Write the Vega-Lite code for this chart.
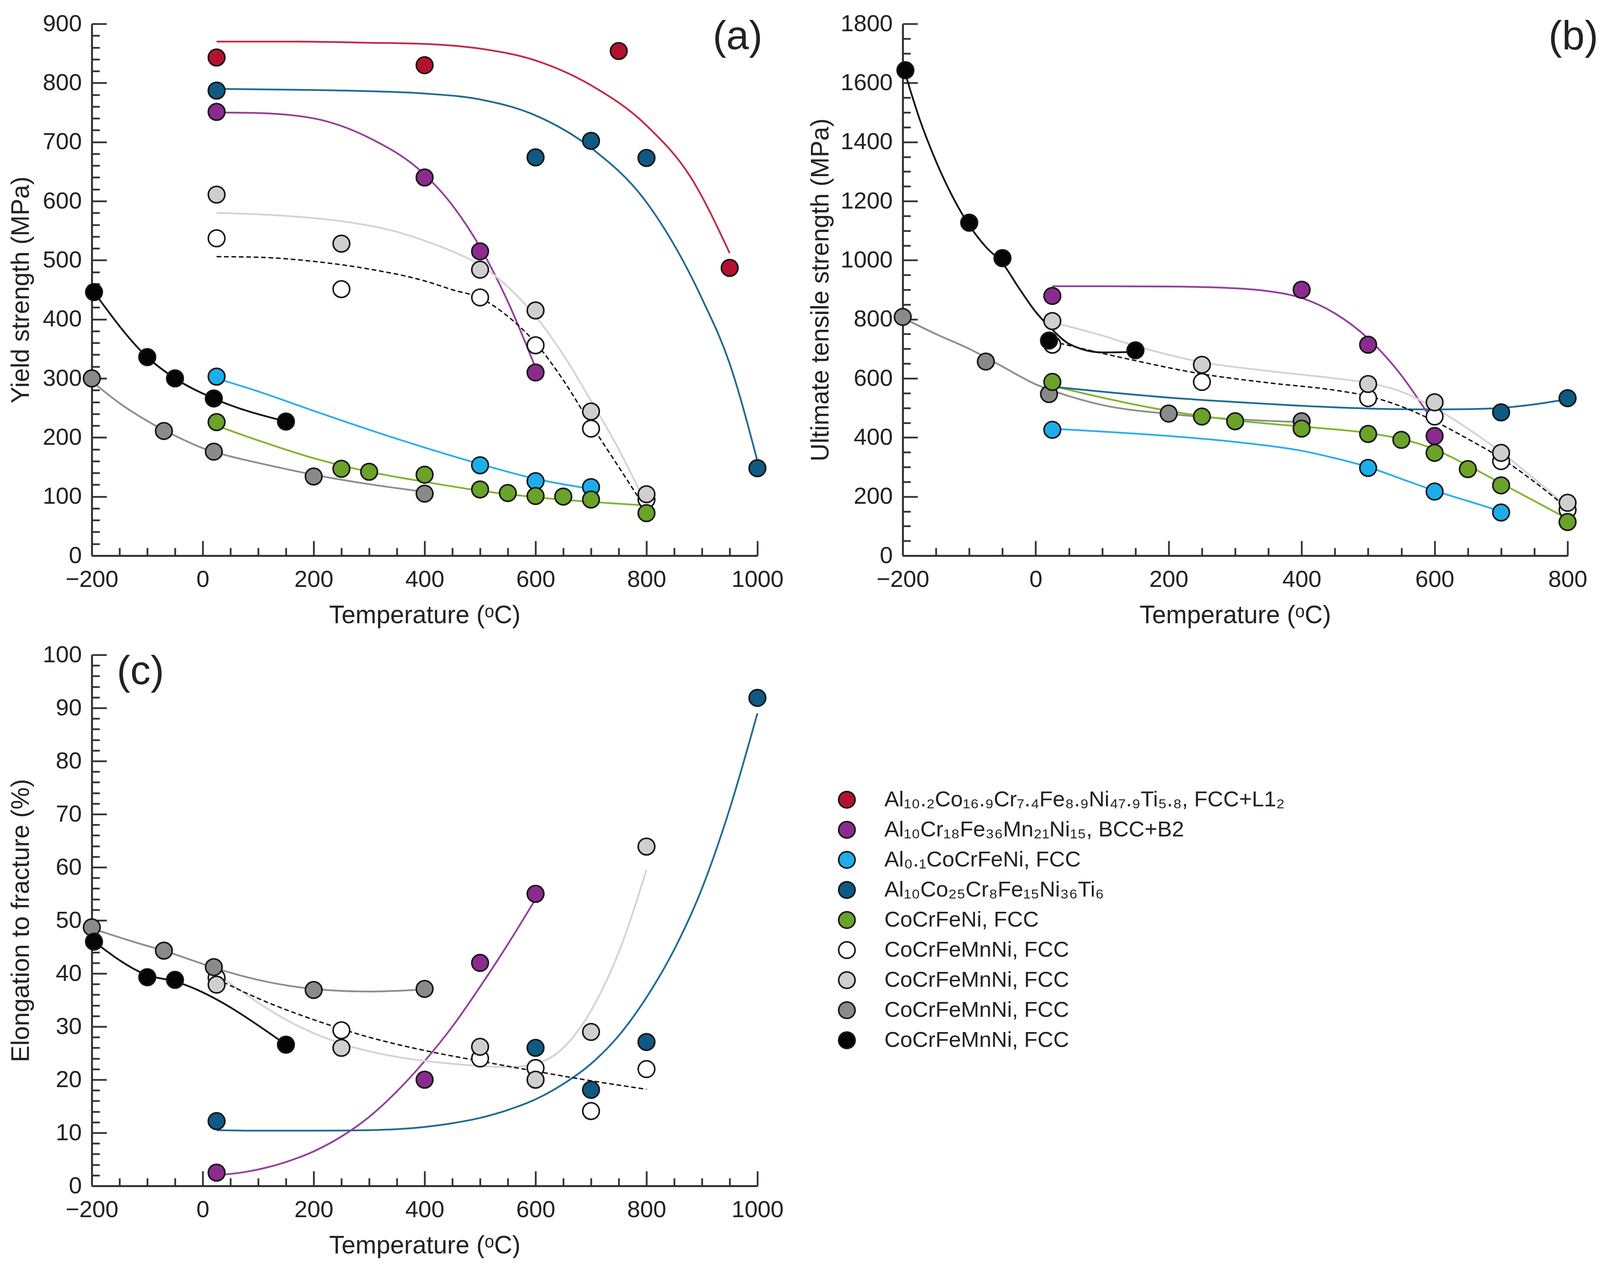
{
  "$schema": "https://vega.github.io/schema/vega-lite/v6.json",
  "description": "Yield strength, UTS and elongation vs temperature for several high-entropy alloys.",
  "padding": {"left": 22, "top": 31, "right": 0, "bottom": 0},
  "background": "white",
  "config": {
    "font": "Liberation Sans",
    "view": {"stroke": null},
    "axis": {
      "grid": false,
      "labelFont": "Liberation Sans",
      "labelFontSize": 60,
      "labelColor": "#222",
      "titleFont": "Liberation Sans",
      "titleFontSize": 64,
      "titleFontWeight": "normal",
      "titleColor": "#222",
      "domainColor": "#333",
      "domainWidth": 5,
      "tickColor": "#333",
      "tickWidth": 4.5,
      "tickOpacity": 1,
      "labelOverlap": false,
      "labelFlush": false,
      "labelBound": false
    }
  },
  "datasets": {
    "pts": [
      {"panel": "a", "series": "F", "temp": 25, "value": 537},
      {"panel": "a", "series": "F", "temp": 250, "value": 451},
      {"panel": "a", "series": "F", "temp": 500, "value": 437},
      {"panel": "a", "series": "F", "temp": 600, "value": 356},
      {"panel": "a", "series": "F", "temp": 700, "value": 215},
      {"panel": "a", "series": "F", "temp": 800, "value": 95},
      {"panel": "a", "series": "G", "temp": 25, "value": 611},
      {"panel": "a", "series": "G", "temp": 250, "value": 528},
      {"panel": "a", "series": "G", "temp": 500, "value": 484},
      {"panel": "a", "series": "G", "temp": 600, "value": 415},
      {"panel": "a", "series": "G", "temp": 700, "value": 244},
      {"panel": "a", "series": "G", "temp": 800, "value": 104},
      {"panel": "a", "series": "H", "temp": -200, "value": 300},
      {"panel": "a", "series": "H", "temp": -70, "value": 211},
      {"panel": "a", "series": "H", "temp": 20, "value": 176},
      {"panel": "a", "series": "H", "temp": 200, "value": 134},
      {"panel": "a", "series": "H", "temp": 400, "value": 105},
      {"panel": "a", "series": "K", "temp": -196, "value": 446},
      {"panel": "a", "series": "K", "temp": -100, "value": 336},
      {"panel": "a", "series": "K", "temp": -50, "value": 300},
      {"panel": "a", "series": "K", "temp": 20, "value": 266},
      {"panel": "a", "series": "K", "temp": 150, "value": 227},
      {"panel": "a", "series": "A", "temp": 25, "value": 843},
      {"panel": "a", "series": "A", "temp": 400, "value": 830},
      {"panel": "a", "series": "A", "temp": 750, "value": 854},
      {"panel": "a", "series": "A", "temp": 950, "value": 487},
      {"panel": "a", "series": "B", "temp": 25, "value": 751},
      {"panel": "a", "series": "B", "temp": 400, "value": 640},
      {"panel": "a", "series": "B", "temp": 500, "value": 515},
      {"panel": "a", "series": "B", "temp": 600, "value": 310},
      {"panel": "a", "series": "C", "temp": 25, "value": 303},
      {"panel": "a", "series": "C", "temp": 500, "value": 153},
      {"panel": "a", "series": "C", "temp": 600, "value": 126},
      {"panel": "a", "series": "C", "temp": 700, "value": 116},
      {"panel": "a", "series": "D", "temp": 25, "value": 787},
      {"panel": "a", "series": "D", "temp": 600, "value": 674},
      {"panel": "a", "series": "D", "temp": 700, "value": 702},
      {"panel": "a", "series": "D", "temp": 800, "value": 673},
      {"panel": "a", "series": "D", "temp": 1000, "value": 148},
      {"panel": "a", "series": "E", "temp": 25, "value": 226},
      {"panel": "a", "series": "E", "temp": 250, "value": 147},
      {"panel": "a", "series": "E", "temp": 300, "value": 142},
      {"panel": "a", "series": "E", "temp": 400, "value": 137},
      {"panel": "a", "series": "E", "temp": 500, "value": 112},
      {"panel": "a", "series": "E", "temp": 550, "value": 106},
      {"panel": "a", "series": "E", "temp": 600, "value": 101},
      {"panel": "a", "series": "E", "temp": 650, "value": 100},
      {"panel": "a", "series": "E", "temp": 700, "value": 95},
      {"panel": "a", "series": "E", "temp": 800, "value": 72},

      {"panel": "b", "series": "F", "temp": 25, "value": 714},
      {"panel": "b", "series": "F", "temp": 250, "value": 588},
      {"panel": "b", "series": "F", "temp": 500, "value": 533},
      {"panel": "b", "series": "F", "temp": 600, "value": 471},
      {"panel": "b", "series": "F", "temp": 700, "value": 320},
      {"panel": "b", "series": "F", "temp": 800, "value": 155},
      {"panel": "b", "series": "G", "temp": 25, "value": 794},
      {"panel": "b", "series": "G", "temp": 250, "value": 646},
      {"panel": "b", "series": "G", "temp": 500, "value": 581},
      {"panel": "b", "series": "G", "temp": 600, "value": 519},
      {"panel": "b", "series": "G", "temp": 700, "value": 348},
      {"panel": "b", "series": "G", "temp": 800, "value": 179},
      {"panel": "b", "series": "H", "temp": -200, "value": 808},
      {"panel": "b", "series": "H", "temp": -75, "value": 657},
      {"panel": "b", "series": "H", "temp": 20, "value": 547},
      {"panel": "b", "series": "H", "temp": 200, "value": 481},
      {"panel": "b", "series": "H", "temp": 400, "value": 455},
      {"panel": "b", "series": "K", "temp": -196, "value": 1643},
      {"panel": "b", "series": "K", "temp": -100, "value": 1127},
      {"panel": "b", "series": "K", "temp": -50, "value": 1007},
      {"panel": "b", "series": "K", "temp": 20, "value": 728},
      {"panel": "b", "series": "K", "temp": 150, "value": 695},
      {"panel": "b", "series": "B", "temp": 25, "value": 879},
      {"panel": "b", "series": "B", "temp": 400, "value": 900},
      {"panel": "b", "series": "B", "temp": 500, "value": 714},
      {"panel": "b", "series": "B", "temp": 600, "value": 405},
      {"panel": "b", "series": "C", "temp": 25, "value": 426},
      {"panel": "b", "series": "C", "temp": 500, "value": 297},
      {"panel": "b", "series": "C", "temp": 600, "value": 217},
      {"panel": "b", "series": "C", "temp": 700, "value": 146},
      {"panel": "b", "series": "D", "temp": 700, "value": 485},
      {"panel": "b", "series": "D", "temp": 800, "value": 533},
      {"panel": "b", "series": "E", "temp": 25, "value": 588},
      {"panel": "b", "series": "E", "temp": 250, "value": 471},
      {"panel": "b", "series": "E", "temp": 300, "value": 455},
      {"panel": "b", "series": "E", "temp": 400, "value": 430},
      {"panel": "b", "series": "E", "temp": 500, "value": 412},
      {"panel": "b", "series": "E", "temp": 550, "value": 392},
      {"panel": "b", "series": "E", "temp": 600, "value": 348},
      {"panel": "b", "series": "E", "temp": 650, "value": 293},
      {"panel": "b", "series": "E", "temp": 700, "value": 238},
      {"panel": "b", "series": "E", "temp": 800, "value": 114},

      {"panel": "c", "series": "F", "temp": 25, "value": 39.2},
      {"panel": "c", "series": "F", "temp": 250, "value": 29.3},
      {"panel": "c", "series": "F", "temp": 500, "value": 24},
      {"panel": "c", "series": "F", "temp": 600, "value": 22.2},
      {"panel": "c", "series": "F", "temp": 700, "value": 14.1},
      {"panel": "c", "series": "F", "temp": 800, "value": 22},
      {"panel": "c", "series": "G", "temp": 25, "value": 37.9},
      {"panel": "c", "series": "G", "temp": 250, "value": 26},
      {"panel": "c", "series": "G", "temp": 500, "value": 26.2},
      {"panel": "c", "series": "G", "temp": 600, "value": 20},
      {"panel": "c", "series": "G", "temp": 700, "value": 29},
      {"panel": "c", "series": "G", "temp": 800, "value": 63.9},
      {"panel": "c", "series": "H", "temp": -200, "value": 48.7},
      {"panel": "c", "series": "H", "temp": -70, "value": 44.3},
      {"panel": "c", "series": "H", "temp": 20, "value": 41.2},
      {"panel": "c", "series": "H", "temp": 200, "value": 36.9},
      {"panel": "c", "series": "H", "temp": 400, "value": 37.1},
      {"panel": "c", "series": "K", "temp": -196, "value": 46},
      {"panel": "c", "series": "K", "temp": -100, "value": 39.3},
      {"panel": "c", "series": "K", "temp": -50, "value": 38.8},
      {"panel": "c", "series": "K", "temp": 150, "value": 26.6},
      {"panel": "c", "series": "B", "temp": 25, "value": 2.5},
      {"panel": "c", "series": "B", "temp": 400, "value": 20},
      {"panel": "c", "series": "B", "temp": 500, "value": 42},
      {"panel": "c", "series": "B", "temp": 600, "value": 55},
      {"panel": "c", "series": "D", "temp": 25, "value": 12.2},
      {"panel": "c", "series": "D", "temp": 600, "value": 26},
      {"panel": "c", "series": "D", "temp": 700, "value": 18.1},
      {"panel": "c", "series": "D", "temp": 800, "value": 27.1},
      {"panel": "c", "series": "D", "temp": 1000, "value": 91.9}
    ],
    "crv": [
      {"panel": "a", "series": "A", "temp": 25, "value": 870},
      {"panel": "a", "series": "A", "temp": 150, "value": 870},
      {"panel": "a", "series": "A", "temp": 300, "value": 868},
      {"panel": "a", "series": "A", "temp": 400, "value": 866},
      {"panel": "a", "series": "A", "temp": 500, "value": 858},
      {"panel": "a", "series": "A", "temp": 600, "value": 838},
      {"panel": "a", "series": "A", "temp": 700, "value": 796},
      {"panel": "a", "series": "A", "temp": 800, "value": 728},
      {"panel": "a", "series": "A", "temp": 880, "value": 640},
      {"panel": "a", "series": "A", "temp": 950, "value": 512},
      {"panel": "a", "series": "B", "temp": 25, "value": 750},
      {"panel": "a", "series": "B", "temp": 100, "value": 749},
      {"panel": "a", "series": "B", "temp": 200, "value": 740},
      {"panel": "a", "series": "B", "temp": 300, "value": 707},
      {"panel": "a", "series": "B", "temp": 400, "value": 645},
      {"panel": "a", "series": "B", "temp": 450, "value": 593},
      {"panel": "a", "series": "B", "temp": 500, "value": 522},
      {"panel": "a", "series": "B", "temp": 550, "value": 430},
      {"panel": "a", "series": "B", "temp": 600, "value": 318},
      {"panel": "a", "series": "C", "temp": 25, "value": 300},
      {"panel": "a", "series": "C", "temp": 100, "value": 278},
      {"panel": "a", "series": "C", "temp": 200, "value": 245},
      {"panel": "a", "series": "C", "temp": 300, "value": 213},
      {"panel": "a", "series": "C", "temp": 400, "value": 183},
      {"panel": "a", "series": "C", "temp": 500, "value": 155},
      {"panel": "a", "series": "C", "temp": 600, "value": 130},
      {"panel": "a", "series": "C", "temp": 700, "value": 113},
      {"panel": "a", "series": "D", "temp": 25, "value": 790},
      {"panel": "a", "series": "D", "temp": 200, "value": 788},
      {"panel": "a", "series": "D", "temp": 300, "value": 786},
      {"panel": "a", "series": "D", "temp": 400, "value": 782},
      {"panel": "a", "series": "D", "temp": 500, "value": 772},
      {"panel": "a", "series": "D", "temp": 600, "value": 745},
      {"panel": "a", "series": "D", "temp": 700, "value": 690},
      {"panel": "a", "series": "D", "temp": 800, "value": 598},
      {"panel": "a", "series": "D", "temp": 900, "value": 435},
      {"panel": "a", "series": "D", "temp": 950, "value": 325},
      {"panel": "a", "series": "D", "temp": 1000, "value": 160},
      {"panel": "a", "series": "E", "temp": 25, "value": 220},
      {"panel": "a", "series": "E", "temp": 100, "value": 195},
      {"panel": "a", "series": "E", "temp": 200, "value": 165},
      {"panel": "a", "series": "E", "temp": 300, "value": 142},
      {"panel": "a", "series": "E", "temp": 400, "value": 125},
      {"panel": "a", "series": "E", "temp": 500, "value": 110},
      {"panel": "a", "series": "E", "temp": 600, "value": 99},
      {"panel": "a", "series": "E", "temp": 700, "value": 91},
      {"panel": "a", "series": "E", "temp": 800, "value": 85},
      {"panel": "a", "series": "F", "temp": 25, "value": 506},
      {"panel": "a", "series": "F", "temp": 100, "value": 505},
      {"panel": "a", "series": "F", "temp": 200, "value": 498},
      {"panel": "a", "series": "F", "temp": 300, "value": 485},
      {"panel": "a", "series": "F", "temp": 400, "value": 465},
      {"panel": "a", "series": "F", "temp": 450, "value": 450},
      {"panel": "a", "series": "F", "temp": 500, "value": 436},
      {"panel": "a", "series": "F", "temp": 550, "value": 405},
      {"panel": "a", "series": "F", "temp": 600, "value": 360},
      {"panel": "a", "series": "F", "temp": 650, "value": 297},
      {"panel": "a", "series": "F", "temp": 700, "value": 222},
      {"panel": "a", "series": "F", "temp": 750, "value": 150},
      {"panel": "a", "series": "F", "temp": 790, "value": 92},
      {"panel": "a", "series": "G", "temp": 25, "value": 580},
      {"panel": "a", "series": "G", "temp": 150, "value": 575},
      {"panel": "a", "series": "G", "temp": 250, "value": 566},
      {"panel": "a", "series": "G", "temp": 350, "value": 548},
      {"panel": "a", "series": "G", "temp": 400, "value": 533},
      {"panel": "a", "series": "G", "temp": 450, "value": 515},
      {"panel": "a", "series": "G", "temp": 500, "value": 492},
      {"panel": "a", "series": "G", "temp": 550, "value": 455},
      {"panel": "a", "series": "G", "temp": 600, "value": 405},
      {"panel": "a", "series": "G", "temp": 650, "value": 340},
      {"panel": "a", "series": "G", "temp": 700, "value": 262},
      {"panel": "a", "series": "G", "temp": 750, "value": 180},
      {"panel": "a", "series": "G", "temp": 790, "value": 105},
      {"panel": "a", "series": "H", "temp": -200, "value": 295},
      {"panel": "a", "series": "H", "temp": -150, "value": 258},
      {"panel": "a", "series": "H", "temp": -100, "value": 228},
      {"panel": "a", "series": "H", "temp": -50, "value": 203},
      {"panel": "a", "series": "H", "temp": 0, "value": 182},
      {"panel": "a", "series": "H", "temp": 50, "value": 168},
      {"panel": "a", "series": "H", "temp": 100, "value": 157},
      {"panel": "a", "series": "H", "temp": 200, "value": 137},
      {"panel": "a", "series": "H", "temp": 300, "value": 121},
      {"panel": "a", "series": "H", "temp": 400, "value": 108},
      {"panel": "a", "series": "K", "temp": -196, "value": 446},
      {"panel": "a", "series": "K", "temp": -100, "value": 336},
      {"panel": "a", "series": "K", "temp": -50, "value": 300},
      {"panel": "a", "series": "K", "temp": 20, "value": 266},
      {"panel": "a", "series": "K", "temp": 150, "value": 227},

      {"panel": "b", "series": "K", "temp": -196, "value": 1630},
      {"panel": "b", "series": "K", "temp": -175, "value": 1480},
      {"panel": "b", "series": "K", "temp": -150, "value": 1335},
      {"panel": "b", "series": "K", "temp": -125, "value": 1215},
      {"panel": "b", "series": "K", "temp": -100, "value": 1118},
      {"panel": "b", "series": "K", "temp": -75, "value": 1045},
      {"panel": "b", "series": "K", "temp": -50, "value": 990},
      {"panel": "b", "series": "K", "temp": -25, "value": 905},
      {"panel": "b", "series": "K", "temp": 0, "value": 825},
      {"panel": "b", "series": "K", "temp": 25, "value": 765},
      {"panel": "b", "series": "K", "temp": 50, "value": 717},
      {"panel": "b", "series": "K", "temp": 100, "value": 688},
      {"panel": "b", "series": "K", "temp": 150, "value": 690},
      {"panel": "b", "series": "H", "temp": -200, "value": 805},
      {"panel": "b", "series": "H", "temp": -150, "value": 750},
      {"panel": "b", "series": "H", "temp": -100, "value": 700},
      {"panel": "b", "series": "H", "temp": -50, "value": 640},
      {"panel": "b", "series": "H", "temp": 0, "value": 580},
      {"panel": "b", "series": "H", "temp": 50, "value": 540},
      {"panel": "b", "series": "H", "temp": 100, "value": 510},
      {"panel": "b", "series": "H", "temp": 200, "value": 480},
      {"panel": "b", "series": "H", "temp": 300, "value": 462},
      {"panel": "b", "series": "H", "temp": 400, "value": 452},
      {"panel": "b", "series": "B", "temp": 25, "value": 912},
      {"panel": "b", "series": "B", "temp": 100, "value": 912},
      {"panel": "b", "series": "B", "temp": 200, "value": 911},
      {"panel": "b", "series": "B", "temp": 300, "value": 905},
      {"panel": "b", "series": "B", "temp": 350, "value": 895},
      {"panel": "b", "series": "B", "temp": 400, "value": 872},
      {"panel": "b", "series": "B", "temp": 450, "value": 820},
      {"panel": "b", "series": "B", "temp": 500, "value": 735},
      {"panel": "b", "series": "B", "temp": 550, "value": 610},
      {"panel": "b", "series": "B", "temp": 590, "value": 480},
      {"panel": "b", "series": "G", "temp": 25, "value": 790},
      {"panel": "b", "series": "G", "temp": 100, "value": 745},
      {"panel": "b", "series": "G", "temp": 150, "value": 710},
      {"panel": "b", "series": "G", "temp": 250, "value": 655},
      {"panel": "b", "series": "G", "temp": 350, "value": 625},
      {"panel": "b", "series": "G", "temp": 450, "value": 600},
      {"panel": "b", "series": "G", "temp": 500, "value": 585},
      {"panel": "b", "series": "G", "temp": 550, "value": 555},
      {"panel": "b", "series": "G", "temp": 600, "value": 500},
      {"panel": "b", "series": "G", "temp": 650, "value": 430},
      {"panel": "b", "series": "G", "temp": 700, "value": 350},
      {"panel": "b", "series": "G", "temp": 750, "value": 260},
      {"panel": "b", "series": "G", "temp": 800, "value": 165},
      {"panel": "b", "series": "F", "temp": 25, "value": 725},
      {"panel": "b", "series": "F", "temp": 100, "value": 685},
      {"panel": "b", "series": "F", "temp": 150, "value": 660},
      {"panel": "b", "series": "F", "temp": 250, "value": 615},
      {"panel": "b", "series": "F", "temp": 350, "value": 585},
      {"panel": "b", "series": "F", "temp": 450, "value": 560},
      {"panel": "b", "series": "F", "temp": 500, "value": 540},
      {"panel": "b", "series": "F", "temp": 550, "value": 505},
      {"panel": "b", "series": "F", "temp": 600, "value": 455},
      {"panel": "b", "series": "F", "temp": 650, "value": 395},
      {"panel": "b", "series": "F", "temp": 700, "value": 330},
      {"panel": "b", "series": "F", "temp": 750, "value": 250},
      {"panel": "b", "series": "F", "temp": 800, "value": 160},
      {"panel": "b", "series": "E", "temp": 25, "value": 575},
      {"panel": "b", "series": "E", "temp": 100, "value": 535},
      {"panel": "b", "series": "E", "temp": 200, "value": 490},
      {"panel": "b", "series": "E", "temp": 300, "value": 458},
      {"panel": "b", "series": "E", "temp": 400, "value": 437},
      {"panel": "b", "series": "E", "temp": 500, "value": 415},
      {"panel": "b", "series": "E", "temp": 550, "value": 395},
      {"panel": "b", "series": "E", "temp": 600, "value": 360},
      {"panel": "b", "series": "E", "temp": 650, "value": 305},
      {"panel": "b", "series": "E", "temp": 700, "value": 245},
      {"panel": "b", "series": "E", "temp": 750, "value": 185},
      {"panel": "b", "series": "E", "temp": 800, "value": 125},
      {"panel": "b", "series": "C", "temp": 25, "value": 430},
      {"panel": "b", "series": "C", "temp": 100, "value": 420},
      {"panel": "b", "series": "C", "temp": 200, "value": 405},
      {"panel": "b", "series": "C", "temp": 300, "value": 385},
      {"panel": "b", "series": "C", "temp": 400, "value": 355},
      {"panel": "b", "series": "C", "temp": 450, "value": 330},
      {"panel": "b", "series": "C", "temp": 500, "value": 300},
      {"panel": "b", "series": "C", "temp": 550, "value": 260},
      {"panel": "b", "series": "C", "temp": 600, "value": 220},
      {"panel": "b", "series": "C", "temp": 650, "value": 185},
      {"panel": "b", "series": "C", "temp": 700, "value": 150},
      {"panel": "b", "series": "D", "temp": 25, "value": 572},
      {"panel": "b", "series": "D", "temp": 100, "value": 555},
      {"panel": "b", "series": "D", "temp": 200, "value": 535},
      {"panel": "b", "series": "D", "temp": 300, "value": 520},
      {"panel": "b", "series": "D", "temp": 400, "value": 507},
      {"panel": "b", "series": "D", "temp": 500, "value": 498},
      {"panel": "b", "series": "D", "temp": 600, "value": 495},
      {"panel": "b", "series": "D", "temp": 650, "value": 496},
      {"panel": "b", "series": "D", "temp": 700, "value": 500},
      {"panel": "b", "series": "D", "temp": 750, "value": 512},
      {"panel": "b", "series": "D", "temp": 800, "value": 530},

      {"panel": "c", "series": "D", "temp": 25, "value": 10.5},
      {"panel": "c", "series": "D", "temp": 100, "value": 10.4},
      {"panel": "c", "series": "D", "temp": 200, "value": 10.4},
      {"panel": "c", "series": "D", "temp": 300, "value": 10.5},
      {"panel": "c", "series": "D", "temp": 400, "value": 11.1},
      {"panel": "c", "series": "D", "temp": 450, "value": 11.8},
      {"panel": "c", "series": "D", "temp": 500, "value": 12.8},
      {"panel": "c", "series": "D", "temp": 550, "value": 14.3},
      {"panel": "c", "series": "D", "temp": 600, "value": 16.3},
      {"panel": "c", "series": "D", "temp": 650, "value": 19.2},
      {"panel": "c", "series": "D", "temp": 700, "value": 23},
      {"panel": "c", "series": "D", "temp": 750, "value": 28.3},
      {"panel": "c", "series": "D", "temp": 800, "value": 35.5},
      {"panel": "c", "series": "D", "temp": 850, "value": 44.5},
      {"panel": "c", "series": "D", "temp": 900, "value": 56},
      {"panel": "c", "series": "D", "temp": 950, "value": 71},
      {"panel": "c", "series": "D", "temp": 1000, "value": 89},
      {"panel": "c", "series": "B", "temp": 25, "value": 2},
      {"panel": "c", "series": "B", "temp": 75, "value": 2.6},
      {"panel": "c", "series": "B", "temp": 150, "value": 4.5},
      {"panel": "c", "series": "B", "temp": 200, "value": 6.5},
      {"panel": "c", "series": "B", "temp": 250, "value": 9.3},
      {"panel": "c", "series": "B", "temp": 300, "value": 13},
      {"panel": "c", "series": "B", "temp": 350, "value": 17.8},
      {"panel": "c", "series": "B", "temp": 400, "value": 23.5},
      {"panel": "c", "series": "B", "temp": 450, "value": 30},
      {"panel": "c", "series": "B", "temp": 500, "value": 37.5},
      {"panel": "c", "series": "B", "temp": 550, "value": 45.5},
      {"panel": "c", "series": "B", "temp": 600, "value": 54},
      {"panel": "c", "series": "G", "temp": 25, "value": 40},
      {"panel": "c", "series": "G", "temp": 100, "value": 34.5},
      {"panel": "c", "series": "G", "temp": 150, "value": 31.3},
      {"panel": "c", "series": "G", "temp": 250, "value": 26.8},
      {"panel": "c", "series": "G", "temp": 350, "value": 24.3},
      {"panel": "c", "series": "G", "temp": 450, "value": 23},
      {"panel": "c", "series": "G", "temp": 550, "value": 22.4},
      {"panel": "c", "series": "G", "temp": 600, "value": 23},
      {"panel": "c", "series": "G", "temp": 650, "value": 26},
      {"panel": "c", "series": "G", "temp": 700, "value": 33},
      {"panel": "c", "series": "G", "temp": 750, "value": 44},
      {"panel": "c", "series": "G", "temp": 800, "value": 59.5},
      {"panel": "c", "series": "F", "temp": 25, "value": 39},
      {"panel": "c", "series": "F", "temp": 100, "value": 35.3},
      {"panel": "c", "series": "F", "temp": 200, "value": 31.3},
      {"panel": "c", "series": "F", "temp": 300, "value": 28},
      {"panel": "c", "series": "F", "temp": 400, "value": 25.5},
      {"panel": "c", "series": "F", "temp": 500, "value": 23.5},
      {"panel": "c", "series": "F", "temp": 600, "value": 21.6},
      {"panel": "c", "series": "F", "temp": 700, "value": 19.8},
      {"panel": "c", "series": "F", "temp": 800, "value": 18.2},
      {"panel": "c", "series": "H", "temp": -200, "value": 48.5},
      {"panel": "c", "series": "H", "temp": -150, "value": 46.8},
      {"panel": "c", "series": "H", "temp": -100, "value": 45.2},
      {"panel": "c", "series": "H", "temp": -70, "value": 44.3},
      {"panel": "c", "series": "H", "temp": -25, "value": 42.7},
      {"panel": "c", "series": "H", "temp": 20, "value": 41.1},
      {"panel": "c", "series": "H", "temp": 100, "value": 38.8},
      {"panel": "c", "series": "H", "temp": 200, "value": 37.1},
      {"panel": "c", "series": "H", "temp": 300, "value": 36.6},
      {"panel": "c", "series": "H", "temp": 400, "value": 37},
      {"panel": "c", "series": "K", "temp": -196, "value": 46},
      {"panel": "c", "series": "K", "temp": -100, "value": 39.7},
      {"panel": "c", "series": "K", "temp": -50, "value": 38.5},
      {"panel": "c", "series": "K", "temp": 150, "value": 26.6}
    ]
  },
  "columns": 2,
  "bounds": "flush",
  "spacing": {"row": 254, "column": 372},
  "resolve": {
    "scale": {"x": "independent", "y": "independent"},
    "axis": {"x": "independent", "y": "independent"},
    "legend": {"fill": "independent", "stroke": "independent"}
  },
  "concat": [
    {
      "width": 1704,
      "height": 1362,
      "resolve": {"axis": {"x": "independent", "y": "independent"}},
      "layer": [
        {
          "data": {"name": "crv"},
          "transform": [{"filter": "datum.panel == 'a' && datum.series != 'F'"}],
          "mark": {"type": "line", "interpolate": "monotone", "strokeWidth": 4.5},
          "encoding": {
            "x": {
              "field": "temp", "type": "quantitative",
              "scale": {"domain": [-200, 1000], "nice": false, "zero": false},
              "axis": {"orient": "bottom", "title": "Temperature (ᵒC)", "values": [-200, 0, 200, 400, 600, 800, 1000], "format": "d", "ticks": false, "labelPadding": 32, "titlePadding": 30}
            },
            "y": {
              "field": "value", "type": "quantitative",
              "scale": {"domain": [0, 900], "nice": false},
              "axis": {"orient": "left", "title": "Yield strength (MPa)", "values": [0, 100, 200, 300, 400, 500, 600, 700, 800, 900], "format": "d", "ticks": false, "labelPadding": 26, "titlePadding": 22}
            },
            "stroke": {
              "field": "series", "type": "nominal", "legend": null,
              "scale": {"domain": ["A", "B", "C", "D", "E", "G", "H", "K"], "range": ["#C42B46", "#93409A", "#2AB0E8", "#1E6C93", "#82B42E", "#D3D3D3", "#8E8E8E", "#111111"]}
            }
          }
        },
        {
          "data": {"name": "crv"},
          "transform": [{"filter": "datum.panel == 'a' && datum.series == 'F'"}],
          "mark": {"type": "line", "interpolate": "monotone", "strokeWidth": 3.5, "strokeDash": [12, 7], "color": "#111111"},
          "encoding": {
            "x": {"field": "temp", "type": "quantitative", "axis": null},
            "y": {"field": "value", "type": "quantitative", "axis": null}
          }
        },
        {
          "data": {"name": "pts"},
          "transform": [{"filter": "datum.panel == 'a'"}],
          "mark": {"type": "circle", "size": 1800, "stroke": "#151515", "strokeWidth": 4, "opacity": 1},
          "encoding": {
            "x": {
              "field": "temp", "type": "quantitative",
              "axis": {"orient": "bottom", "title": null, "labels": false, "domain": false, "ticks": true, "tickSize": 20, "offset": -20, "values": [-150, -100, -50, 50, 100, 150, 250, 300, 350, 450, 500, 550, 650, 700, 750, 850, 900, 950]}
            },
            "y": {
              "field": "value", "type": "quantitative",
              "axis": {"orient": "left", "title": null, "labels": false, "domain": false, "ticks": true, "tickSize": 20, "offset": -20, "values": [20, 40, 60, 80, 120, 140, 160, 180, 220, 240, 260, 280, 320, 340, 360, 380, 420, 440, 460, 480, 520, 540, 560, 580, 620, 640, 660, 680, 720, 740, 760, 780, 820, 840, 860, 880]}
            },
            "fill": {
              "field": "series", "type": "nominal", "legend": null,
              "scale": {"domain": ["A", "B", "C", "D", "E", "F", "G", "H", "K"], "range": ["#B3122E", "#8B2B8F", "#1CAEEA", "#0E5A82", "#6AA22A", "#FFFFFF", "#CFCFCF", "#8A8A8A", "#050505"]}
            }
          }
        },
        {
          "data": {"values": [{}]},
          "mark": {"type": "text", "text": "(a)", "fontSize": 104, "align": "right", "baseline": "top", "color": "#222", "font": "Liberation Sans"},
          "encoding": {
            "x": {"datum": 1009, "type": "quantitative", "axis": {"orient": "bottom", "title": null, "labels": false, "domain": false, "ticks": true, "tickSize": 38, "offset": -38, "values": [-200, 0, 200, 400, 600, 800, 1000]}},
            "y": {"datum": 911, "type": "quantitative", "axis": {"orient": "left", "title": null, "labels": false, "domain": false, "ticks": true, "tickSize": 38, "offset": -38, "values": [0, 100, 200, 300, 400, 500, 600, 700, 800, 900]}}
          }
        }
      ]
    },
    {
      "width": 1702,
      "height": 1362,
      "resolve": {"axis": {"x": "independent", "y": "independent"}},
      "layer": [
        {
          "data": {"name": "crv"},
          "transform": [{"filter": "datum.panel == 'b' && datum.series != 'F'"}],
          "mark": {"type": "line", "interpolate": "monotone", "strokeWidth": 4.5},
          "encoding": {
            "x": {
              "field": "temp", "type": "quantitative",
              "scale": {"domain": [-200, 800], "nice": false, "zero": false},
              "axis": {"orient": "bottom", "title": "Temperature (ᵒC)", "values": [-200, 0, 200, 400, 600, 800], "format": "d", "ticks": false, "labelPadding": 32, "titlePadding": 30}
            },
            "y": {
              "field": "value", "type": "quantitative",
              "scale": {"domain": [0, 1800], "nice": false},
              "axis": {"orient": "left", "title": "Ultimate tensile strength (MPa)", "values": [0, 200, 400, 600, 800, 1000, 1200, 1400, 1600, 1800], "format": "d", "ticks": false, "labelPadding": 26, "titlePadding": 18}
            },
            "stroke": {
              "field": "series", "type": "nominal", "legend": null,
              "scale": {"domain": ["A", "B", "C", "D", "E", "G", "H", "K"], "range": ["#C42B46", "#93409A", "#2AB0E8", "#1E6C93", "#82B42E", "#D3D3D3", "#8E8E8E", "#111111"]}
            }
          }
        },
        {
          "data": {"name": "crv"},
          "transform": [{"filter": "datum.panel == 'b' && datum.series == 'F'"}],
          "mark": {"type": "line", "interpolate": "monotone", "strokeWidth": 3.5, "strokeDash": [12, 7], "color": "#111111"},
          "encoding": {
            "x": {"field": "temp", "type": "quantitative", "axis": null},
            "y": {"field": "value", "type": "quantitative", "axis": null}
          }
        },
        {
          "data": {"name": "pts"},
          "transform": [{"filter": "datum.panel == 'b'"}],
          "mark": {"type": "circle", "size": 1800, "stroke": "#151515", "strokeWidth": 4, "opacity": 1},
          "encoding": {
            "x": {
              "field": "temp", "type": "quantitative",
              "axis": {"orient": "bottom", "title": null, "labels": false, "domain": false, "ticks": true, "tickSize": 20, "offset": -20, "values": [-150, -100, -50, 50, 100, 150, 250, 300, 350, 450, 500, 550, 650, 700, 750]}
            },
            "y": {
              "field": "value", "type": "quantitative",
              "axis": {"orient": "left", "title": null, "labels": false, "domain": false, "ticks": true, "tickSize": 20, "offset": -20, "values": [50, 100, 150, 250, 300, 350, 450, 500, 550, 650, 700, 750, 850, 900, 950, 1050, 1100, 1150, 1250, 1300, 1350, 1450, 1500, 1550, 1650, 1700, 1750]}
            },
            "fill": {
              "field": "series", "type": "nominal", "legend": null,
              "scale": {"domain": ["A", "B", "C", "D", "E", "F", "G", "H", "K"], "range": ["#B3122E", "#8B2B8F", "#1CAEEA", "#0E5A82", "#6AA22A", "#FFFFFF", "#CFCFCF", "#8A8A8A", "#050505"]}
            }
          }
        },
        {
          "data": {"values": [{}]},
          "mark": {"type": "text", "text": "(b)", "fontSize": 104, "align": "right", "baseline": "top", "color": "#222", "font": "Liberation Sans"},
          "encoding": {
            "x": {"datum": 846, "type": "quantitative", "axis": {"orient": "bottom", "title": null, "labels": false, "domain": false, "ticks": true, "tickSize": 38, "offset": -38, "values": [-200, 0, 200, 400, 600, 800]}},
            "y": {"datum": 1822, "type": "quantitative", "axis": {"orient": "left", "title": null, "labels": false, "domain": false, "ticks": true, "tickSize": 38, "offset": -38, "values": [0, 200, 400, 600, 800, 1000, 1200, 1400, 1600, 1800]}}
          }
        }
      ]
    },
    {
      "width": 1704,
      "height": 1360,
      "resolve": {"axis": {"x": "independent", "y": "independent"}},
      "layer": [
        {
          "data": {"name": "crv"},
          "transform": [{"filter": "datum.panel == 'c' && datum.series != 'F'"}],
          "mark": {"type": "line", "interpolate": "monotone", "strokeWidth": 4.5},
          "encoding": {
            "x": {
              "field": "temp", "type": "quantitative",
              "scale": {"domain": [-200, 1000], "nice": false, "zero": false},
              "axis": {"orient": "bottom", "title": "Temperature (ᵒC)", "values": [-200, 0, 200, 400, 600, 800, 1000], "format": "d", "ticks": false, "labelPadding": 32, "titlePadding": 30}
            },
            "y": {
              "field": "value", "type": "quantitative",
              "scale": {"domain": [0, 100], "nice": false},
              "axis": {"orient": "left", "title": "Elongation to fracture (%)", "values": [0, 10, 20, 30, 40, 50, 60, 70, 80, 90, 100], "format": "d", "ticks": false, "labelPadding": 26, "titlePadding": 22}
            },
            "stroke": {
              "field": "series", "type": "nominal", "legend": null,
              "scale": {"domain": ["A", "B", "C", "D", "E", "G", "H", "K"], "range": ["#C42B46", "#93409A", "#2AB0E8", "#1E6C93", "#82B42E", "#D3D3D3", "#8E8E8E", "#111111"]}
            }
          }
        },
        {
          "data": {"name": "crv"},
          "transform": [{"filter": "datum.panel == 'c' && datum.series == 'F'"}],
          "mark": {"type": "line", "interpolate": "monotone", "strokeWidth": 3.5, "strokeDash": [12, 7], "color": "#111111"},
          "encoding": {
            "x": {"field": "temp", "type": "quantitative", "axis": null},
            "y": {"field": "value", "type": "quantitative", "axis": null}
          }
        },
        {
          "data": {"name": "pts"},
          "transform": [{"filter": "datum.panel == 'c'"}],
          "mark": {"type": "circle", "size": 1800, "stroke": "#151515", "strokeWidth": 4, "opacity": 1},
          "encoding": {
            "x": {
              "field": "temp", "type": "quantitative",
              "axis": {"orient": "bottom", "title": null, "labels": false, "domain": false, "ticks": true, "tickSize": 20, "offset": -20, "values": [-150, -100, -50, 50, 100, 150, 250, 300, 350, 450, 500, 550, 650, 700, 750, 850, 900, 950]}
            },
            "y": {
              "field": "value", "type": "quantitative",
              "axis": {"orient": "left", "title": null, "labels": false, "domain": false, "ticks": true, "tickSize": 20, "offset": -20, "values": [2, 4, 6, 8, 12, 14, 16, 18, 22, 24, 26, 28, 32, 34, 36, 38, 42, 44, 46, 48, 52, 54, 56, 58, 62, 64, 66, 68, 72, 74, 76, 78, 82, 84, 86, 88, 92, 94, 96, 98]}
            },
            "fill": {
              "field": "series", "type": "nominal",
              "scale": {"domain": ["A", "B", "C", "D", "E", "F", "G", "H", "K"], "range": ["#B3122E", "#8B2B8F", "#1CAEEA", "#0E5A82", "#6AA22A", "#FFFFFF", "#CFCFCF", "#8A8A8A", "#050505"]},
              "legend": {
                "orient": "none",
                "legendX": 1905,
                "legendY": 343,
                "title": null,
                "direction": "vertical",
                "padding": 0,
                "symbolType": "circle",
                "symbolSize": 1764,
                "symbolStrokeColor": "#151515",
                "symbolStrokeWidth": 4,
                "symbolOpacity": 1,
                "labelFont": "Liberation Sans",
                "labelFontSize": 56,
                "labelColor": "#222",
                "labelOffset": 68,
                "labelLimit": 0,
                "rowPadding": 19,
                "labelExpr": "datum.value == 'A' ? 'Al₁₀.₂Co₁₆.₉Cr₇.₄Fe₈.₉Ni₄₇.₉Ti₅.₈, FCC+L1₂' : datum.value == 'B' ? 'Al₁₀Cr₁₈Fe₃₆Mn₂₁Ni₁₅, BCC+B2' : datum.value == 'C' ? 'Al₀.₁CoCrFeNi, FCC' : datum.value == 'D' ? 'Al₁₀Co₂₅Cr₈Fe₁₅Ni₃₆Ti₆' : datum.value == 'E' ? 'CoCrFeNi, FCC' : 'CoCrFeMnNi, FCC'"
              }
            }
          }
        },
        {
          "data": {"values": [{}]},
          "mark": {"type": "text", "text": "(c)", "fontSize": 104, "align": "left", "baseline": "top", "color": "#222", "font": "Liberation Sans"},
          "encoding": {
            "x": {"datum": -155, "type": "quantitative", "axis": {"orient": "bottom", "title": null, "labels": false, "domain": false, "ticks": true, "tickSize": 38, "offset": -38, "values": [-200, 0, 200, 400, 600, 800, 1000]}},
            "y": {"datum": 100.5, "type": "quantitative", "axis": {"orient": "left", "title": null, "labels": false, "domain": false, "ticks": true, "tickSize": 38, "offset": -38, "values": [0, 10, 20, 30, 40, 50, 60, 70, 80, 90, 100]}}
          }
        }
      ]
    }
  ]
}
